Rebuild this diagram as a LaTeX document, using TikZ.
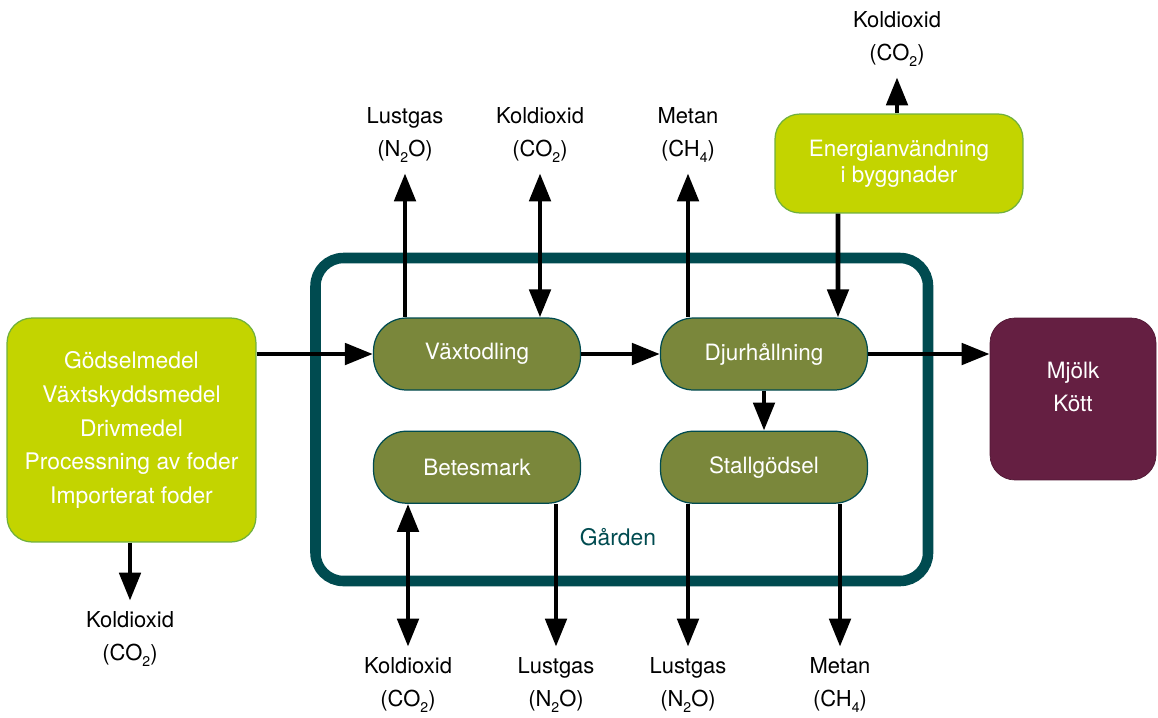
\documentclass[tikz,border=0pt]{standalone}
\usepackage{fontspec}
\setmainfont{TeX Gyre Heros}
\usepackage{tikz}
\usetikzlibrary{calc,positioning,arrows.meta}

\definecolor{gardteal}{RGB}{0,75,80}
\definecolor{odling}{RGB}{122,135,59}
\definecolor{insats}{RGB}{195,212,0}
\definecolor{insatskant}{RGB}{112,176,60}
\definecolor{produkt}{RGB}{101,31,66}
\newcommand{\ned}[1]{\raisebox{-0.55ex}{\fontsize{8}{8}\selectfont #1}}

\begin{document}
\begin{tikzpicture}[x=0.02cm,y=-0.02cm,>={Triangle[length=0.56cm,width=0.42cm]},
    flow/.style={draw=gardteal,fill=odling,text=white,rounded corners=0.66cm,line width=0.7pt,
        minimum width=4.14cm,minimum height=1.44cm,font=\fontsize{12.8}{15}\selectfont},
    inbox/.style={draw=insatskant,fill=insats,text=white,rounded corners=0.5cm,line width=0.7pt,align=center},
    gas/.style={align=center,inner xsep=2pt,inner ysep=6pt,font=\fontsize{12.5}{18.5}\selectfont},
    pil/.style={line width=2.8pt}]
    \useasboundingbox (0,0) rectangle (1158,717);
    % gården
    \draw[gardteal,line width=6pt,rounded corners=0.56cm] (315.5,258) rectangle (928,581);
    \node[text=gardteal,font=\fontsize{13}{15}\selectfont] (garden) at (618,537) {Gården};
    %
    \node[flow] (vaxt) at (477,354) {Växtodling};
    \node[flow] (djur) at (764,354) {Djurhållning};
    \node[flow,below=0.8cm of vaxt] (bete) {Betesmark};
    \node[flow,below=0.8cm of djur] (stall) {Stallgödsel};
    %
    \node[inbox,minimum width=4.98cm,minimum height=4.48cm,font=\fontsize{13}{19.3}\selectfont] (insats) at (131.5,430)
        {Gödselmedel\\Växtskyddsmedel\\Drivmedel\\Processning av foder\\Importerat foder};
    \node[inbox,minimum width=4.96cm,minimum height=1.98cm,font=\fontsize{12.8}{15}\selectfont] (energi) at (899,163.5)
        {Energianvändning\\i byggnader};
    \node[draw=produkt!80!black,fill=produkt,text=white,rounded corners=0.5cm,minimum width=3.32cm,minimum height=3.24cm,
        align=center,text depth=0.5cm,font=\fontsize{12.8}{18.7}\selectfont] (mjolk) at (1073,399) {Mjölk\\Kött};
    %
    \node[gas] (n2oA) at (405,135) {Lustgas\\(N\ned{2}O)};
    \node[gas] (co2A) at (540,135) {Koldioxid\\(CO\ned{2})};
    \node[gas] (ch4A) at (688,135) {Metan\\(CH\ned{4})};
    \node[gas] (co2E) at (897,39) {Koldioxid\\(CO\ned{2})};
    \node[gas] (co2I) at (130,639) {Koldioxid\\(CO\ned{2})};
    \node[gas] (co2B) at (408,685) {Koldioxid\\(CO\ned{2})};
    \node[gas] (n2oB) at (556,685) {Lustgas\\(N\ned{2}O)};
    \node[gas] (n2oS) at (688,685) {Lustgas\\(N\ned{2}O)};
    \node[gas] (ch4S) at (840,685) {Metan\\(CH\ned{4})};
    %
    \draw[pil,->] (insats.east |- vaxt.west) -- (vaxt.west);
    \draw[pil,->] (vaxt) -- (djur);
    \draw[pil,->] (djur.east) -- (djur.east -| mjolk.west);
    \draw[pil,->] (djur) -- (stall);
    \draw[pil,->] ([xshift=-1.22cm]energi.south) -- ([xshift=1.48cm]djur.north);
    \draw[pil,->] (energi.north -| co2E) -- (co2E.south);
    
    \draw[pil,->] (vaxt.north -| n2oA) -- (n2oA.south);
    \draw[pil,<->] (vaxt.north -| co2A) -- (co2A.south);
    \draw[pil,->] (djur.north -| ch4A) -- (ch4A.south);
    \draw[pil,->] (insats.south -| co2I) -- (co2I.north);
    
    \draw[pil,<->] (bete.south -| co2B) -- (co2B.north);
    \draw[pil,->] (bete.south -| n2oB) -- (n2oB.north);
    \draw[pil,->] (stall.south -| n2oS) -- (n2oS.north);
    \draw[pil,->] (stall.south -| ch4S) -- (ch4S.north);
\end{tikzpicture}
\end{document}
